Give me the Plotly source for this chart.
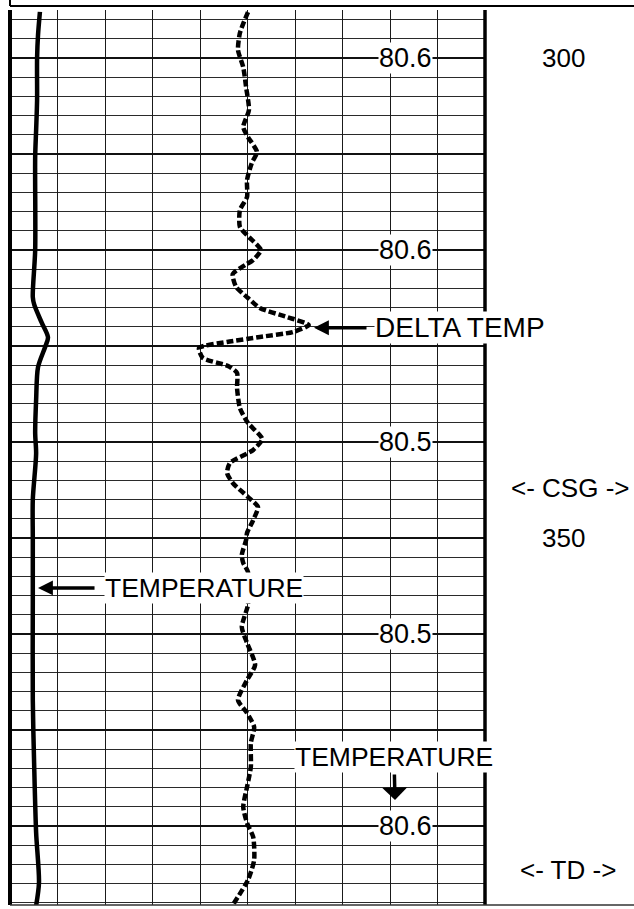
import plotly.graph_objects as go

# ---- data (depth in ft, reading in chart divisions 0..10) ----
temp_depth = [295.2, 297.6, 300.0, 304.4, 307.5, 310.3, 320.0, 324.9, 325.7, 327.6,
              329.1, 330.1, 332.2, 335.6, 339.1, 341.2, 346.0, 350.0, 356.5, 366.9,
              373.9, 380.7, 385.9, 388.3]
temp_div = [0.63, 0.59, 0.57, 0.57, 0.55, 0.53, 0.53, 0.48, 0.51, 0.67,
            0.80, 0.74, 0.59, 0.55, 0.53, 0.55, 0.48, 0.48, 0.48, 0.48,
            0.51, 0.55, 0.61, 0.55]

delta_depth = [295.21, 297.40, 299.17, 300.94, 303.02, 305.42, 307.19, 308.23, 309.79, 310.94,
               312.71, 314.48, 315.83, 317.60, 318.65, 320.00, 321.04, 321.56, 322.50, 323.85,
               325.00, 326.04, 326.98, 327.81, 328.54, 329.06, 329.58, 330.21, 331.25, 332.08,
               332.81, 334.38, 336.46, 338.02, 339.69, 340.83, 342.19, 343.23, 344.27, 345.73,
               346.77, 348.13, 349.48, 350.21, 351.77, 352.60, 353.54, 355.42, 356.98, 359.27,
               360.94, 363.23, 364.79, 366.88, 368.23, 369.69, 371.35, 373.85, 375.94, 378.02,
               379.69, 381.15, 383.54, 385.63, 388.23]
delta_div = [5.01, 4.84, 4.80, 4.91, 4.97, 5.03, 4.91, 5.01, 5.20, 5.09,
             4.99, 4.99, 4.84, 4.84, 5.03, 5.28, 5.12, 4.95, 4.69, 4.76,
             5.01, 5.26, 5.83, 6.29, 5.96, 5.26, 4.57, 3.98, 4.06, 4.59,
             4.78, 4.78, 4.84, 5.01, 5.31, 5.12, 4.63, 4.57, 4.69, 5.01,
             5.22, 5.12, 4.99, 4.97, 4.88, 4.91, 5.01, 5.01, 5.01, 4.88,
             4.99, 5.16, 4.99, 4.80, 4.99, 5.14, 5.07, 5.07, 4.99, 4.91,
             4.99, 5.12, 5.14, 5.01, 4.69]

label_depths = [300, 320, 340, 360, 380]
label_texts = ["80.6", "80.6", "80.5", "80.5", "80.6"]

depth_marks = [300, 350]
csg_depth = 344.8
td_depth = 384.6

FONT = 'Arial, "Liberation Sans", sans-serif'

fig = go.Figure()
fig.add_trace(go.Scatter(x=temp_div, y=temp_depth, mode="lines",
                         line=dict(color="black", width=4.5, shape="spline", smoothing=0.8),
                         hoverinfo="skip"))
fig.add_trace(go.Scatter(x=delta_div, y=delta_depth, mode="lines",
                         line=dict(color="black", width=4.5, dash="7px,3px",
                                   shape="spline", smoothing=0.6),
                         hoverinfo="skip"))

fig.update_layout(width=634, height=909,
                  margin=dict(l=10, r=149, t=10, b=4),
                  paper_bgcolor="white", plot_bgcolor="white",
                  showlegend=False,
                  font=dict(family=FONT, color="black", size=26))
fig.update_xaxes(range=[0, 10], tick0=0, dtick=1, showgrid=True, gridcolor="#1a1a1a",
                 gridwidth=1.2, showticklabels=False, zeroline=False, ticks="", showline=False,
                 fixedrange=True)
fig.update_yaxes(range=[388.23, 295.0], autorange=False, tick0=300, dtick=10, showgrid=True,
                 gridcolor="#111111", gridwidth=2.4, showticklabels=False, zeroline=False,
                 ticks="", showline=False, fixedrange=True,
                 minor=dict(tick0=300, dtick=2, showgrid=True, gridcolor="#2a2a2a", gridwidth=1.2))

# borders
shapes = [
    dict(type="line", xref="paper", yref="paper", x0=0, x1=0, y0=0, y1=1,
         line=dict(color="black", width=4)),
    dict(type="line", xref="paper", yref="paper", x0=1, x1=1, y0=0, y1=1,
         line=dict(color="black", width=3.5)),
    dict(type="line", xref="paper", yref="paper", x0=0, x1=1.32, y0=0.0, y1=0.0,
         line=dict(color="#333333", width=1.5)),
    # header box bottom edge
    dict(type="line", xref="paper", yref="paper", x0=0, x1=1.32, y0=1.0045, y1=1.0045,
         line=dict(color="black", width=2)),
    dict(type="line", xref="paper", yref="paper", x0=0, x1=0, y0=1.0045, y1=1.02,
         line=dict(color="black", width=2)),
]
fig.update_layout(shapes=shapes)

ann = []
for d, t in zip(label_depths, label_texts):
    ann.append(dict(x=8.32, y=d, xref="x", yref="y", text=t, showarrow=False,
                    xanchor="center", yanchor="middle",
                    bgcolor="white", borderpad=0, font=dict(size=27)))

for d in depth_marks:
    ann.append(dict(x=1.165, y=d, xref="paper", yref="y", text=str(d), showarrow=False,
                    xanchor="center", yanchor="middle", font=dict(size=26)))
ann.append(dict(x=1.179, y=csg_depth, xref="paper", yref="y", text="&lt;- CSG -&gt;",
                showarrow=False, xanchor="center", yanchor="middle", font=dict(size=26)))
ann.append(dict(x=1.175, y=td_depth, xref="paper", yref="y", text="&lt;- TD -&gt;",
                showarrow=False, xanchor="center", yanchor="middle", font=dict(size=26)))

# DELTA TEMP with left arrow
ann.append(dict(x=6.4, y=328.1, xref="x", yref="y", text="DELTA TEMP",
                showarrow=True, ax=146, ay=0, axref="pixel", ayref="pixel",
                arrowhead=2, arrowsize=0.85, arrowwidth=3.5, arrowcolor="black",
                standoff=0, startstandoff=8, bgcolor="white", borderpad=0,
                font=dict(size=28)))
# TEMPERATURE with left arrow
ann.append(dict(x=0.59, y=355.2, xref="x", yref="y", text="TEMPERATURE",
                showarrow=True, ax=166, ay=0, axref="pixel", ayref="pixel",
                arrowhead=2, arrowsize=0.85, arrowwidth=3.5, arrowcolor="black",
                standoff=0, startstandoff=10, bgcolor="white", borderpad=0,
                font=dict(size=26.5)))
# TEMPERATURE with down arrow
ann.append(dict(x=8.105, y=377.3, xref="x", yref="y", text="TEMPERATURE",
                showarrow=True, ax=-1, ay=-43, axref="pixel", ayref="pixel",
                arrowhead=1, arrowsize=1.2, arrowwidth=3.5, arrowcolor="black",
                standoff=0, startstandoff=2, bgcolor="white", borderpad=0,
                font=dict(size=26.5)))

fig.update_layout(annotations=ann)
fig.write_html("out.html", config={"displayModeBar": False},
               post_script="document.body.style.margin='0';")
